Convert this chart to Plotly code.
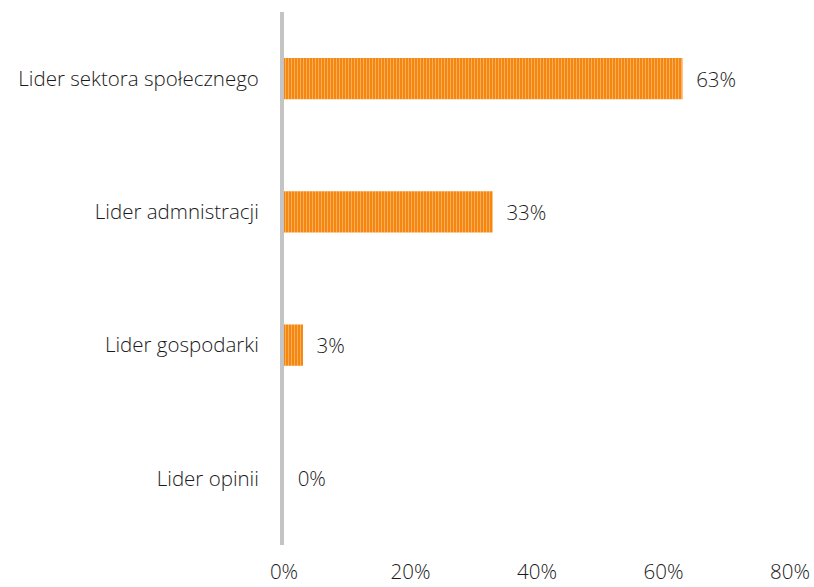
import plotly.graph_objects as go

categories = ["Lider sektora społecznego", "Lider admnistracji", "Lider gospodarki", "Lider opinii"]
values = [0.63, 0.33, 0.03, 0.0]
tick_vals = [0, 0.2, 0.4, 0.6, 0.8]
tick_text = ["0%", "20%", "40%", "60%", "80%"]

FONT = "Open Sans"
FS = 20.5
FC = "#1a1a1a"

fig = go.Figure(go.Bar(
    y=categories, x=values, orientation="h",
    marker=dict(color="#F5870F", line=dict(width=0),
                pattern=dict(shape="|", fgcolor="#FCD6AA", bgcolor="#F5870F", size=3, solidity=0.35)),
    width=0.31,
    text=[f"{round(v*100)}%" for v in values],
    texttemplate="  %{text}",
    textposition="outside", cliponaxis=False,
    textfont=dict(family=FONT, size=FS, color=FC, weight=300),
))

fig.update_layout(
    width=814, height=587,
    margin=dict(l=284, r=24, t=12, b=42),
    paper_bgcolor="white", plot_bgcolor="white",
    showlegend=False,
    font=dict(family=FONT, size=FS, color=FC, weight=300),
    xaxis=dict(range=[0, 0.8], tickvals=tick_vals, ticktext=tick_text,
               showgrid=False, zeroline=False, showline=False, automargin=False,
               ticks="outside", ticklen=8, tickcolor="rgba(0,0,0,0)",
               tickfont=dict(family=FONT, size=FS, color=FC, weight=300)),
    yaxis=dict(autorange="reversed", showgrid=False, zeroline=False, automargin=False,
               showline=True, linecolor="#C4C4C4", linewidth=4,
               ticks="outside", ticklen=17, tickcolor="rgba(0,0,0,0)",
               tickfont=dict(family=FONT, size=FS, color=FC, weight=300)),
)

fig.write_html("out.html", post_script="document.body.style.margin='0';",
               config={"displayModeBar": False})
